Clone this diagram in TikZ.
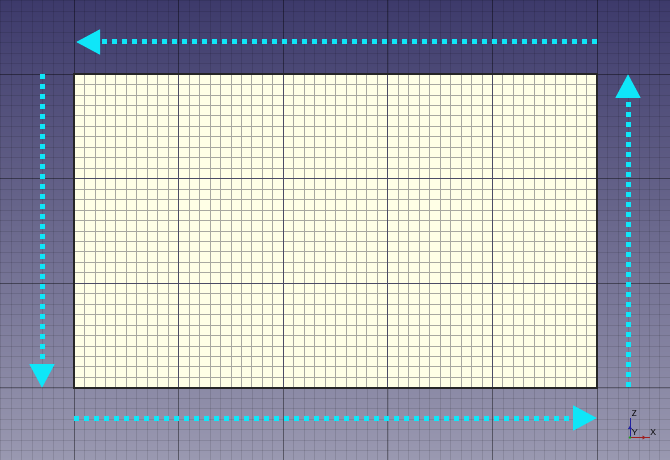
\documentclass[tikz,border=0pt]{standalone}
\usepackage{xcolor}
\usetikzlibrary{arrows.meta}

\definecolor{bgtop}{HTML}{3D3A6B}
\definecolor{bgbottom}{HTML}{9A99B1}
\definecolor{sheetfill}{HTML}{FFFFE6}
\definecolor{minorgray}{HTML}{A8A8A0}
\definecolor{majorslate}{HTML}{4C4C66}
\definecolor{flowcyan}{HTML}{0FE6F8}
\definecolor{axisred}{HTML}{A02020}
\definecolor{axisblue}{HTML}{2020A0}
\definecolor{axisgreen}{HTML}{20A020}

\tikzset{
  minorout/.style={black, opacity=0.10, line width=0.6pt},
  majorout/.style={black, opacity=0.35, line width=0.8pt},
  minorin/.style={minorgray, line width=0.8pt},
  majorin/.style={majorslate, line width=1.3pt},
  flowarrow/.style={flowcyan, line width=5pt, dash pattern=on 5pt off 5pt,
    -{Triangle[length=24pt,width=24pt]}},
  axislabel/.style={font=\sffamily\fontsize{8.5}{8.5}\selectfont, inner sep=0pt}
}

\begin{document}
\begin{tikzpicture}[x=1pt,y=-1pt]
    \useasboundingbox (0,0) rectangle (670,460);

    % Background
    \shade[top color=bgtop, bottom color=bgbottom] (0,0) rectangle (670,460);

    % Outer grid
    \foreach \i in {-7,...,57}
        \draw[minorout] ({74+\i*10.46},0) -- ({74+\i*10.46},460);
    \foreach \i in {-7,...,37}
        \draw[minorout] (0,{74+\i*10.46}) -- (670,{74+\i*10.46});
    \foreach \i in {-1,...,6}
        \draw[majorout] ({74+\i*104.6},0) -- ({74+\i*104.6},460);
    \foreach \i in {-1,...,4}
        \draw[majorout] (0,{74+\i*104.6}) -- (670,{74+\i*104.6});

    % Sketch sheet
    \node[fill=sheetfill, minimum width=523pt, minimum height=313.8pt, inner sep=0pt]
        (sheet) at (335.5,230.9) {};
    \foreach \i in {1,...,49}
        \draw[minorin] ({74+\i*10.46},74) -- ({74+\i*10.46},387.8);
    \foreach \i in {1,...,29}
        \draw[minorin] (74,{74+\i*10.46}) -- (597,{74+\i*10.46});
    \foreach \i in {1,...,4}
        \draw[majorin] ({74+\i*104.6},74) -- ({74+\i*104.6},387.8);
    \foreach \i in {1,2}
        \draw[majorin] (74,{74+\i*104.6}) -- (597,{74+\i*104.6});
    \draw[black!85, line width=1.8pt] (sheet.north west) rectangle (sheet.south east);

    % Direction arrows
    \coordinate (topstart) at (597,42);
    \coordinate (topend) at (76,42);
    \coordinate (leftstart) at (42,74);
    \coordinate (leftend) at (42,388);
    \coordinate (bottomstart) at (74,418);
    \coordinate (bottomend) at (597,418);
    \coordinate (rightstart) at (628,387);
    \coordinate (rightend) at (628,74);
    \draw[flowarrow] (topstart) -- (topend);
    \draw[flowarrow] (leftstart) -- (leftend);
    \draw[flowarrow] (bottomstart) -- (bottomend);
    \draw[flowarrow] (rightstart) -- (rightend);

    % Axis indicator
    \coordinate (axo) at (630,437.5);
    \coordinate (zend) at (630,418);
    \coordinate (xend) at (650,437.5);
    \draw[axisblue, line width=0.9pt] (axo) -- (zend);
    \draw[axisblue, line width=0.9pt, -{Latex[length=3.5pt,width=4.5pt]}] (axo) -- ++(0,-12);
    \draw[axisred, line width=0.9pt] (axo) -- (xend);
    \draw[axisred, line width=0.9pt, -{Latex[length=3.5pt,width=4.5pt]}] (axo) -- ++(16,0);
    \fill[axisgreen] (axo) circle (1.4pt);
    \node[axislabel] (zlabel) at (634.3,413.3) {Z};
    \node[axislabel] (ylabel) at (634.7,432.2) {Y};
    \node[axislabel] (xlabel) at (653.3,432.2) {X};
\end{tikzpicture}
\end{document}
